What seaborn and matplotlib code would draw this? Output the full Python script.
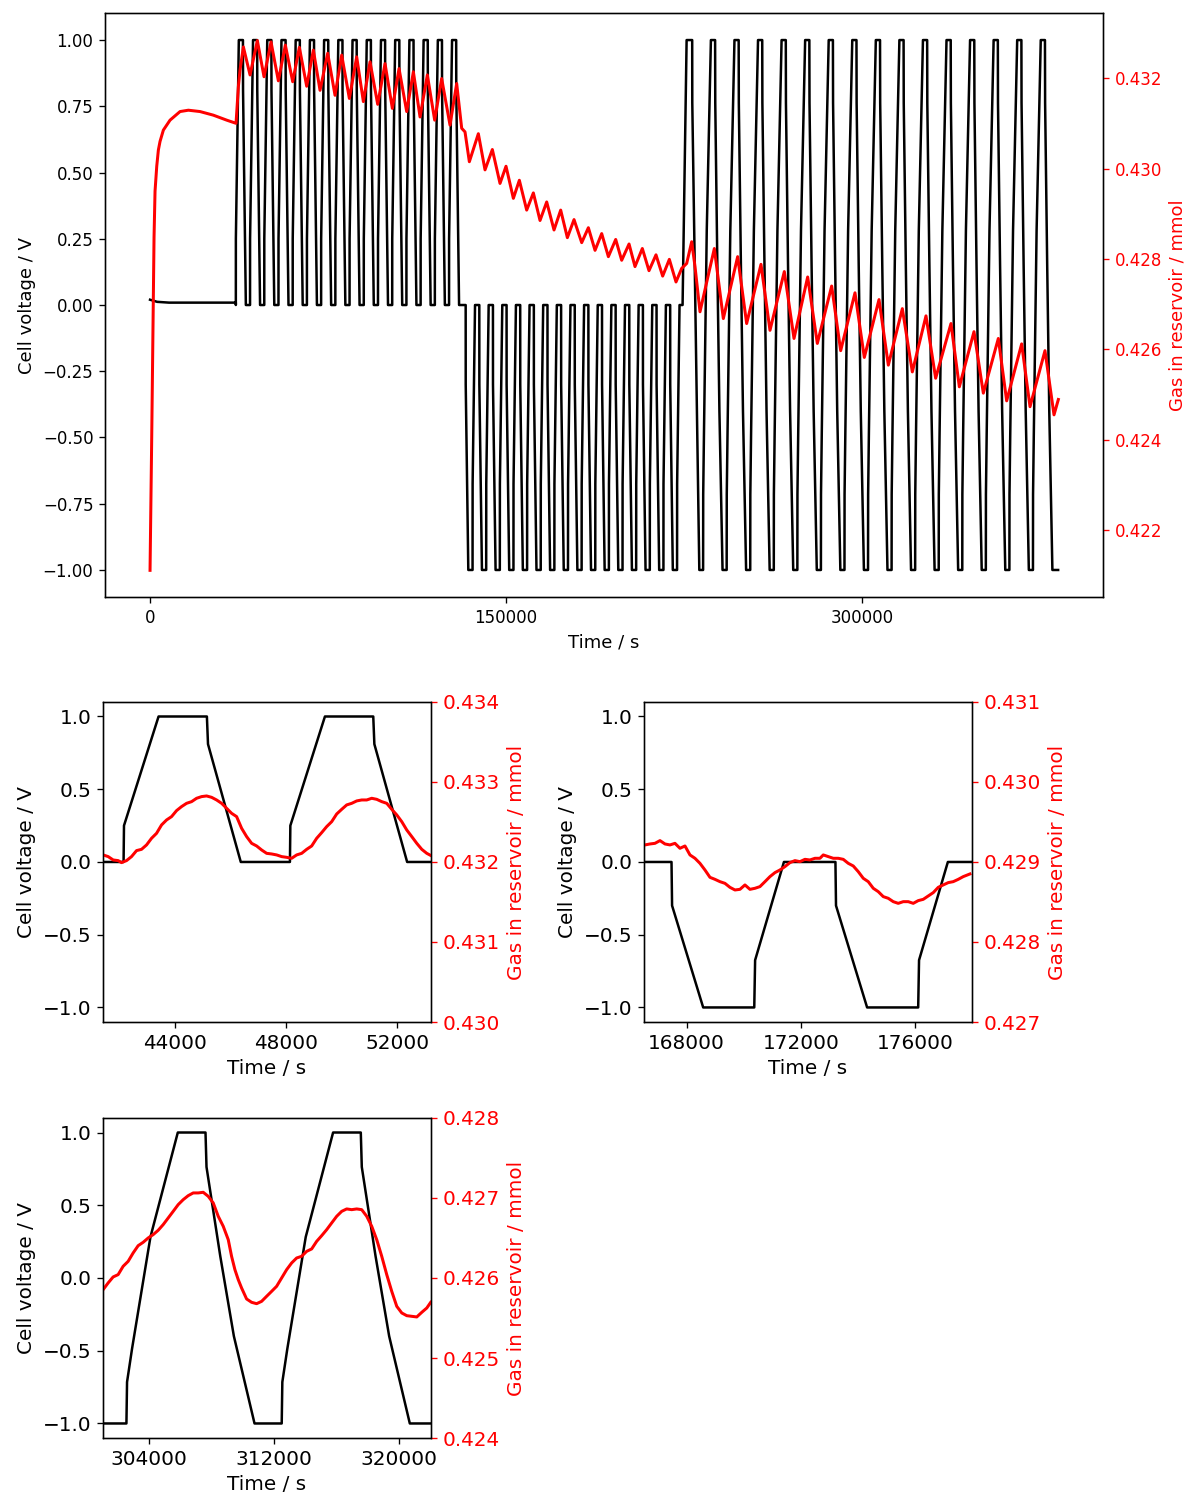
import numpy as np
import matplotlib
matplotlib.use("Agg")
import matplotlib.pyplot as plt
import seaborn as sns

# ---- cell voltage waveform, read off the chart as breakpoints ----
# rest before cycling
rest_t = [0, 3000, 8000, 36150]
rest_v = [0.020, 0.012, 0.009, 0.009]

# block 1: 0 V -> 1 V cycles (start time of each cycle)
b1_starts = [36150, 42140, 48130, 54120, 60110, 66100, 72090, 78080,
             84070, 90060, 96050, 102040, 108030, 114020, 120010, 126000]
b1_offs = [0, 15, 1260, 3000, 3040, 4220]
b1_volts = [0.0, 0.25, 1.0, 1.0, 0.81, 0.0]

# block 2: 0 V -> -1 V cycles
b2_starts = [133000, 138745, 144490, 150235, 155980, 161725, 167470, 173215,
             178960, 184705, 190450, 196195, 201940, 207685, 213430, 219175]
b2_offs = [0, 20, 1110, 2900, 2930, 3940]
b2_volts = [0.0, -0.30, -1.0, -1.0, -0.675, 0.0]

# block 3: -1 V <-> 1 V cycles (first one starts from 0 V)
b3_first_t = [224400, 226100, 228450, 228490, 231450]
b3_first_v = [0.0, 1.0, 1.0, 0.763, -1.0]
b3_starts = [233050, 242978, 252906, 262834, 272762, 282690, 292618, 302546,
             312474, 322402, 332330, 342258, 352186, 362114, 372042]
b3_offs = [0, 40, 360, 1536, 3285, 5056, 5120, 6000, 6870, 8190]
b3_volts = [-1.0, -0.715, -0.486, 0.282, 1.0, 1.0, 0.763, 0.15, -0.40, -1.0]
end_t, end_v = 382650, -1.0

# ---- gas in reservoir, whole run (mmol) ----
gas_t = [0, 716, 1685, 2107, 2823, 3511, 4213, 5618, 8427, 12640, 16152, 21067,
         26685, 32303, 36236, 37220, 37920,
         39330, 42140, 45220, 48030, 50980, 54070, 57020, 60110, 62920, 66010,
         68820, 71630, 74860, 77950, 80760, 83990, 87080, 89890, 92700, 95930,
         99020, 102110, 104920, 108150, 110960, 113770, 116850, 119940, 122890,
         126400, 129210, 131320, 132720,
         134550, 138340, 141150, 144240, 147470, 150000, 153090, 155620, 158710,
         161520, 164330, 167140, 170230, 173040, 175850, 178660, 181890, 184700,
         187510, 190320, 193130, 196220, 198740, 201840, 204350, 207440, 210250,
         213200, 216010, 218820, 221630, 224020, 226130, 228240, 229640,
         231740, 237780, 241570, 247610, 251400, 257440, 261230, 267270, 271350,
         277110, 281180, 287220, 291010, 297050, 300980, 307170, 311100, 317000,
         321210, 326970, 331040, 337500, 341020, 347190, 351130, 357450, 360960,
         367280, 370800, 377110, 380910, 382740]
gas = [0.42111, 0.42410, 0.42848, 0.42950, 0.43005, 0.43041, 0.43060, 0.43085,
       0.43107, 0.43126, 0.43129, 0.43126, 0.43118, 0.43107, 0.43100, 0.43181,
       0.43218,
       0.43269, 0.43207, 0.43283, 0.43203, 0.43280, 0.43194, 0.43273, 0.43192,
       0.43268, 0.43182, 0.43262, 0.43173, 0.43255, 0.43162, 0.43251, 0.43155,
       0.43247, 0.43148, 0.43236, 0.43142, 0.43232, 0.43133, 0.43221, 0.43126,
       0.43214, 0.43114, 0.43207, 0.43107, 0.43199, 0.43096, 0.43188, 0.43089,
       0.43081,
       0.43015, 0.43077, 0.42997, 0.43042, 0.42967, 0.43005, 0.42934, 0.42974,
       0.42908, 0.42946, 0.42885, 0.42926, 0.42864, 0.42908, 0.42847, 0.42887,
       0.42836, 0.42869, 0.42819, 0.42856, 0.42805, 0.42843, 0.42797, 0.42833,
       0.42783, 0.42823, 0.42774, 0.42809, 0.42762, 0.42799, 0.42749, 0.42779,
       0.42790, 0.42838, 0.42783,
       0.42683, 0.42823, 0.42668, 0.42805, 0.42657, 0.42788, 0.42642, 0.42772,
       0.42624, 0.42760, 0.42613, 0.42740, 0.42597, 0.42725, 0.42582, 0.42710,
       0.42565, 0.42690, 0.42550, 0.42674, 0.42536, 0.42657, 0.42517, 0.42639,
       0.42503, 0.42624, 0.42486, 0.42612, 0.42473, 0.42597, 0.42455, 0.42489]

# ---- gas in reservoir, detail windows ----
z1_t = [41405, 41586, 41766, 41946, 42066, 42246, 42426, 42607, 42787, 42967,
        43147, 43327, 43508, 43688, 43868, 44048, 44228, 44408, 44589, 44769,
        44949, 45129, 45309, 45489, 45670, 45850, 46030, 46210, 46390, 46571,
        46751, 46931, 47111, 47291, 47472, 47652, 47832, 48012, 48192, 48372,
        48553, 48733, 48913, 49093, 49273, 49453, 49634, 49814, 49994, 50174,
        50354, 50535, 50715, 50895, 51075, 51255, 51436, 51616, 51796, 51976,
        52156, 52336, 52517, 52697, 52877, 53057, 53213]
z1_gas = [0.432088, 0.432067, 0.432025, 0.432017, 0.431992, 0.432017, 0.432067,
          0.432142, 0.432158, 0.432213, 0.432296, 0.432358, 0.432463, 0.432525,
          0.432567, 0.432642, 0.432692, 0.432733, 0.432754, 0.432796, 0.432817,
          0.432825, 0.432808, 0.432775, 0.432733, 0.432671, 0.432608, 0.432567,
          0.432421, 0.432317, 0.432233, 0.432200, 0.432150, 0.432108, 0.432100,
          0.432088, 0.432067, 0.432058, 0.432046, 0.432088, 0.432108, 0.432158,
          0.432200, 0.432296, 0.432367, 0.432442, 0.432504, 0.432600, 0.432658,
          0.432713, 0.432733, 0.432763, 0.432775, 0.432775, 0.432796, 0.432783,
          0.432754, 0.432733, 0.432658, 0.432588, 0.432504, 0.432400, 0.432317,
          0.432233, 0.432158, 0.432108, 0.432079]

z2_t = [166540, 166715, 166890, 167066, 167241, 167416, 167591, 167766, 167942,
        168117, 168292, 168467, 168642, 168818, 168993, 169168, 169343, 169518,
        169694, 169869, 170044, 170219, 170394, 170569, 170745, 170920, 171095,
        171270, 171445, 171621, 171796, 171971, 172146, 172321, 172497, 172672,
        172789, 172964, 173139, 173314, 173489, 173665, 173840, 174015, 174190,
        174365, 174541, 174716, 174891, 175066, 175241, 175416, 175592, 175767,
        175942, 176117, 176292, 176467, 176643, 176818, 176993, 177168, 177343,
        177519, 177694, 177927]
z2_gas = [0.429213, 0.429225, 0.429233, 0.429267, 0.429225, 0.429213, 0.429233,
          0.429171, 0.429200, 0.429088, 0.429046, 0.428983, 0.428900, 0.428808,
          0.428783, 0.428754, 0.428733, 0.428683, 0.428650, 0.428658, 0.428713,
          0.428658, 0.428671, 0.428692, 0.428754, 0.428817, 0.428867, 0.428900,
          0.428942, 0.428992, 0.429017, 0.429004, 0.429033, 0.429025, 0.429046,
          0.429046, 0.429088, 0.429067, 0.429046, 0.429046, 0.429033, 0.428983,
          0.428950, 0.428879, 0.428796, 0.428754, 0.428671, 0.428629, 0.428567,
          0.428546, 0.428504, 0.428483, 0.428504, 0.428504, 0.428483, 0.428517,
          0.428533, 0.428575, 0.428617, 0.428683, 0.428713, 0.428742, 0.428754,
          0.428783, 0.428817, 0.428850]

z3_t = [301056, 301376, 301696, 302016, 302336, 302656, 302976, 303296, 303616,
        303936, 304256, 304576, 304896, 305216, 305536, 305856, 306176, 306496,
        306816, 307136, 307456, 307776, 308096, 308416, 308736, 309056, 309269,
        309482, 309696, 309909, 310229, 310549, 310869, 311189, 311509, 311829,
        312149, 312469, 312789, 313109, 313429, 313749, 314069, 314389, 314709,
        315029, 315349, 315669, 315989, 316309, 316629, 316949, 317269, 317589,
        317909, 318229, 318549, 318869, 319189, 319509, 319829, 320149, 320469,
        320789, 321109, 321429, 321749, 322000]
z3_gas = [0.425854, 0.425938, 0.426013, 0.426042, 0.426146, 0.426208, 0.426313,
          0.426404, 0.426446, 0.426500, 0.426542, 0.426596, 0.426667, 0.426750,
          0.426833, 0.426917, 0.426979, 0.427029, 0.427063, 0.427063, 0.427071,
          0.427021, 0.426938, 0.426771, 0.426646, 0.426479, 0.426271, 0.426104,
          0.425979, 0.425875, 0.425738, 0.425696, 0.425679, 0.425708, 0.425771,
          0.425833, 0.425896, 0.426000, 0.426104, 0.426188, 0.426250, 0.426271,
          0.426333, 0.426363, 0.426458, 0.426529, 0.426604, 0.426688, 0.426771,
          0.426833, 0.426863, 0.426854, 0.426863, 0.426854, 0.426771, 0.426646,
          0.426479, 0.426271, 0.426042, 0.425833, 0.425646, 0.425563, 0.425529,
          0.425521, 0.425513, 0.425571, 0.425625, 0.425696]


def cycles(starts, offs, volts):
    t, v = [], []
    for s in starts:
        t += [s + o for o in offs]
        v += volts
    return t, v


t1, v1 = cycles(b1_starts, b1_offs, b1_volts)
t2, v2 = cycles(b2_starts, b2_offs, b2_volts)
t3, v3 = cycles(b3_starts, b3_offs, b3_volts)
volt_t = rest_t + t1 + t2 + b3_first_t + t3 + [end_t]
volt = rest_v + v1 + v2 + b3_first_v + v3 + [end_v]

plt.rcParams['font.family'] = 'DejaVu Sans'
fig = plt.figure(figsize=(1191 / 120, 1497 / 120), dpi=120)


def panel(rect, xlim, ylim_v, ylim_g, xticks, vticks, gticks, gt, gv, fs, lfs, vfmt, gfmt):
    ax = fig.add_axes(rect)
    sns.lineplot(x=volt_t, y=volt, ax=ax, color='k', linewidth=1.5,
                 estimator=None, sort=False)
    ax.set_xlim(*xlim)
    ax.set_ylim(*ylim_v)
    ax.set_xticks(xticks)
    ax.set_xticklabels([str(x) for x in xticks])
    ax.set_yticks(vticks)
    ax.set_yticklabels([vfmt.format(y).replace('-', '\u2212') for y in vticks])
    ax.tick_params(labelsize=fs)
    ax.set_xlabel('Time / s', fontsize=lfs)
    ax.set_ylabel('Cell voltage / V', fontsize=lfs)

    ax2 = ax.twinx()
    sns.lineplot(x=gt, y=gv, ax=ax2, color='r', linewidth=1.8,
                 estimator=None, sort=False)
    ax2.set_xlim(*xlim)
    ax2.set_ylim(*ylim_g)
    ax2.set_yticks(gticks)
    ax2.set_yticklabels([gfmt.format(g) for g in gticks])
    ax2.tick_params(axis='y', colors='r', labelsize=fs)
    ax2.set_ylabel('Gas in reservoir / mmol', color='r', fontsize=lfs)
    return ax, ax2


# overview
panel([0.0882, 0.6012, 0.8379, 0.3901], (-18960, 401550), (-1.102, 1.102),
      (0.42052, 0.43344), [0, 150000, 300000],
      [-1.0, -0.75, -0.5, -0.25, 0.0, 0.25, 0.5, 0.75, 1.0],
      [0.422, 0.424, 0.426, 0.428, 0.430, 0.432], gas_t, gas, 10, 10.8,
      '{:.2f}', '{:.3f}')

# detail windows
panel([0.0865, 0.3173, 0.2754, 0.2138], (41400, 53210), (-1.1, 1.1),
      (0.430, 0.434), [44000, 48000, 52000], [-1.0, -0.5, 0.0, 0.5, 1.0],
      [0.430, 0.431, 0.432, 0.433, 0.434], z1_t, z1_gas, 12, 12, '{:.1f}', '{:.3f}')
panel([0.5407, 0.3173, 0.2754, 0.2138], (166505, 178000), (-1.1, 1.1),
      (0.427, 0.431), [168000, 172000, 176000], [-1.0, -0.5, 0.0, 0.5, 1.0],
      [0.427, 0.428, 0.429, 0.430, 0.431], z2_t, z2_gas, 12, 12, '{:.1f}', '{:.3f}')
panel([0.0865, 0.0394, 0.2754, 0.2138], (301050, 322020), (-1.1, 1.1),
      (0.424, 0.428), [304000, 312000, 320000], [-1.0, -0.5, 0.0, 0.5, 1.0],
      [0.424, 0.425, 0.426, 0.427, 0.428], z3_t, z3_gas, 12, 12, '{:.1f}', '{:.3f}')

fig.savefig('out.png', dpi=120)
